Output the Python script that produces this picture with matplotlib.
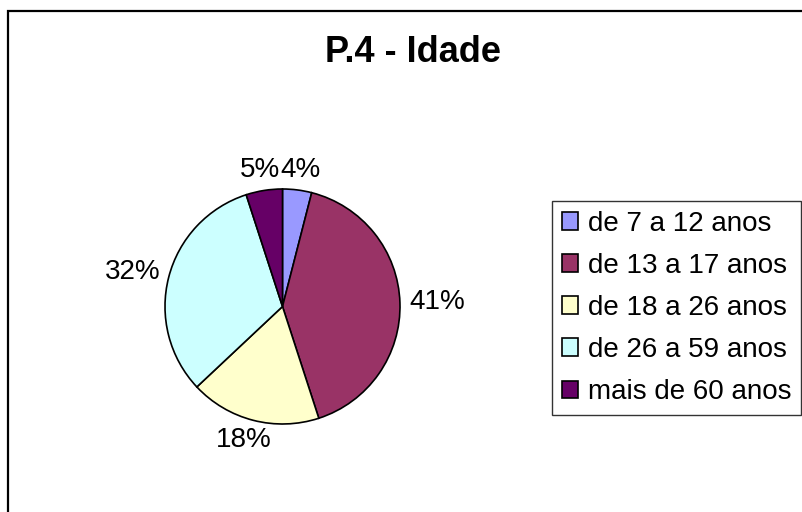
import matplotlib
matplotlib.use("Agg")
import matplotlib.pyplot as plt
from matplotlib.patches import Rectangle
import numpy as np

plt.rcParams['font.family'] = ['Liberation Sans', 'DejaVu Sans']

categories = ["de 7 a 12 anos", "de 13 a 17 anos", "de 18 a 26 anos",
              "de 26 a 59 anos", "mais de 60 anos"]
values = [4, 41, 18, 32, 5]
colors = ["#9999FF", "#993366", "#FFFFCC", "#CCFFFF", "#660066"]
title = "P.4 - Idade"

W, H = 802, 512
fig = plt.figure(figsize=(W / 100, H / 100), dpi=100)

# figure border (Excel chart area)
fig.patches.append(Rectangle((7.5 / W, -0.05), 1.2, 1 - 10.5 / H + 0.05,
                             transform=fig.transFigure, fill=False,
                             edgecolor='black', linewidth=1.6))

cx, cy, r = 282.5, 306.5, 117.5
ax = fig.add_axes([(cx - r) / W, (H - cy - r) / H, 2 * r / W, 2 * r / H])

wedges, _ = ax.pie(values, colors=colors, startangle=90, counterclock=False,
                   radius=1, wedgeprops=dict(edgecolor='black', linewidth=1.2))
ax.set_xlim(-1, 1)
ax.set_ylim(-1, 1)
ax.axis('off')

renderer = fig.canvas.get_renderer()
total = sum(values)
gap = 1.08
for w, v in zip(wedges, values):
    ang = np.deg2rad((w.theta1 + w.theta2) / 2)
    c, s = np.cos(ang), np.sin(ang)
    t = ax.text(0, 0, f"{round(100 * v / total)}%", ha='center', va='center',
                fontsize=20, clip_on=False)
    bb = t.get_window_extent(renderer)
    tw, th = bb.width / r, bb.height / r
    t.set_position((gap * c + tw / 2 * c, gap * s + th / 2 * s * 0.85))

fig.text(413 / W, 1 - 53 / H, title, ha='center', va='center',
         fontsize=26, fontweight='bold')

leg = fig.legend(wedges, categories, loc='upper left',
                 bbox_to_anchor=(552 / W, 1 - 201 / H),
                 bbox_transform=fig.transFigure, fontsize=20,
                 frameon=True, fancybox=False, edgecolor='black',
                 borderaxespad=0, handlelength=0.6, handleheight=0.6,
                 handletextpad=0.35, labelspacing=0.58, borderpad=0.35)
leg.get_frame().set_linewidth(1.0)

fig.savefig("out.png", dpi=100)
